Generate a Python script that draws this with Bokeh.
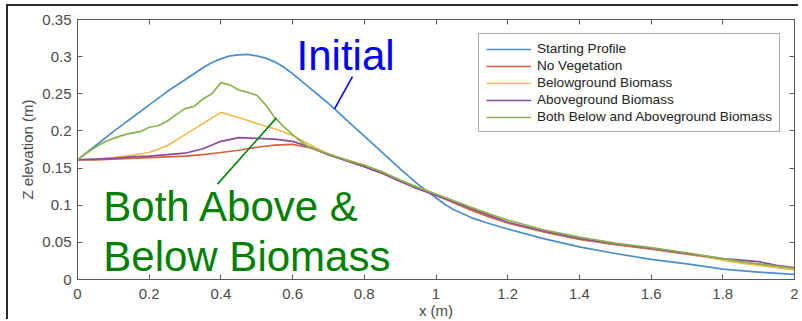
from bokeh.plotting import figure
from bokeh.models import Range1d, LinearAxis, FixedTicker, ColumnDataSource
from bokeh.core.properties import value
from bokeh.embed import file_html
from bokeh.resources import INLINE

# ---------------- data ----------------
x_ticks = [0, 0.2, 0.4, 0.6, 0.8, 1, 1.2, 1.4, 1.6, 1.8, 2]
x_tick_labels = ["0", "0.2", "0.4", "0.6", "0.8", "1", "1.2", "1.4", "1.6", "1.8", "2"]
y_ticks = [0, 0.05, 0.1, 0.15, 0.2, 0.25, 0.3, 0.35]
y_tick_labels = ["0", "0.05", "0.1", "0.15", "0.2", "0.25", "0.3", "0.35"]

series_names = ["Starting Profile", "No Vegetation", "Belowground Biomass",
                "Aboveground Biomass", "Both Below and Aboveground Biomass"]

x_start = [0, 0.05, 0.1, 0.15, 0.2, 0.25, 0.3, 0.325, 0.35, 0.375, 0.4, 0.425, 0.45,
           0.475, 0.5, 0.525, 0.55, 0.575, 0.6, 0.625, 0.65, 0.675,
           0.7, 0.75, 0.8, 0.85, 0.9, 0.95, 0.975, 1.0, 1.025, 1.05, 1.1, 1.15, 1.2,
           1.3, 1.4, 1.5, 1.6, 1.7, 1.8, 1.9, 2.0]
y_start = [0.161, 0.180, 0.199, 0.217, 0.235, 0.253, 0.269, 0.277, 0.285, 0.292, 0.297,
           0.301, 0.3025, 0.303, 0.301, 0.298, 0.293, 0.286, 0.277, 0.267, 0.257, 0.247,
           0.237, 0.215, 0.193, 0.171, 0.149, 0.128, 0.119, 0.110, 0.101, 0.094,
           0.083, 0.075, 0.068, 0.055, 0.044, 0.035, 0.027, 0.021, 0.014, 0.010, 0.007]

x_veg = [0, 0.05, 0.1, 0.15, 0.2, 0.25, 0.3, 0.35, 0.4, 0.45, 0.5, 0.55, 0.6, 0.65,
         0.7, 0.75, 0.8, 0.85, 0.9, 0.95, 1.0, 1.05, 1.1, 1.15, 1.2, 1.3, 1.4, 1.5,
         1.6, 1.7, 1.8, 1.85, 1.9, 1.95, 2.0]
y_novege = [0.161, 0.161, 0.162, 0.163, 0.164, 0.165, 0.166, 0.168, 0.171, 0.174, 0.178,
            0.181, 0.182, 0.177, 0.168, 0.160, 0.152, 0.143, 0.133, 0.123, 0.114, 0.103,
            0.093, 0.084, 0.076, 0.064, 0.054, 0.047, 0.041, 0.034, 0.027, 0.023, 0.020,
            0.017, 0.015]
y_below = [0.161, 0.162, 0.164, 0.167, 0.171, 0.180, 0.195, 0.210, 0.225, 0.218, 0.210,
           0.203, 0.194, 0.181, 0.169, 0.161, 0.153, 0.144, 0.133, 0.123, 0.114, 0.104,
           0.095, 0.086, 0.077, 0.065, 0.055, 0.048, 0.042, 0.035, 0.026, 0.022, 0.019,
           0.016, 0.013]
y_above = [0.161, 0.162, 0.163, 0.165, 0.166, 0.168, 0.170, 0.176, 0.186, 0.191, 0.190,
           0.189, 0.186, 0.178, 0.168, 0.160, 0.152, 0.143, 0.132, 0.122, 0.113, 0.104,
           0.095, 0.086, 0.077, 0.065, 0.055, 0.048, 0.042, 0.035, 0.028, 0.026, 0.024,
           0.019, 0.016]

x_both = [0, 0.025, 0.05, 0.075, 0.1, 0.125, 0.15, 0.175, 0.2, 0.225, 0.25, 0.275, 0.3,
          0.325, 0.35, 0.375, 0.4, 0.425, 0.45, 0.475, 0.5, 0.525, 0.55, 0.575, 0.6,
          0.625, 0.65, 0.7, 0.75, 0.8, 0.85, 0.9, 0.95, 1.0, 1.05, 1.1, 1.15, 1.2, 1.3,
          1.4, 1.5, 1.6, 1.7, 1.8, 1.85, 1.9, 1.95, 2.0]
y_both = [0.161, 0.170, 0.178, 0.185, 0.190, 0.194, 0.197, 0.199, 0.205, 0.207, 0.213,
          0.222, 0.230, 0.233, 0.243, 0.250, 0.265, 0.262, 0.255, 0.252, 0.248, 0.235,
          0.218, 0.206, 0.195, 0.185, 0.177, 0.169, 0.161, 0.154, 0.145, 0.134, 0.124,
          0.115, 0.106, 0.097, 0.088, 0.080, 0.067, 0.057, 0.049, 0.043, 0.036, 0.028,
          0.024, 0.021, 0.018, 0.015]

colors = ["#4a8fc9", "#d9623b", "#eebd4f", "#8d4c99", "#8ab34f"]

# annotation texts and pointers
note_text = ["Initial", "Both Above &", "Below Biomass"]
note_x = [0.611, 0.072, 0.072]
note_y = [0.301, 0.0985, 0.0311]
note_color = ["#0000ff", "#008000", "#008000"]
ptr_x0 = [0.767, 0.555]
ptr_y0 = [0.273, 0.2176]
ptr_x1 = [0.717, 0.3905]
ptr_y1 = [0.2297, 0.1284]
ptr_color = ["#0000ff", "#008000"]

# ---------------- figure ----------------
FONT = "Liberation Sans"
AX = "#5a5a5a"
TXT = "#4a4a4a"

p = figure(width=792, height=315, output_backend="svg", toolbar_location=None,
           x_range=Range1d(0, 2), y_range=Range1d(0, 0.35),
           min_border_left=69, min_border_right=6, min_border_top=13, min_border_bottom=0)
p.styles = {"border-left": "2px solid #2a2a2a", "border-top": "2px solid #2a2a2a",
            "margin-left": "6px", "margin-top": "4px"}
p.background_fill_color = "white"
p.border_fill_color = "white"
p.outline_line_color = AX
p.outline_line_width = 1
p.grid.visible = False

xs_all = [x_start, x_veg, x_veg, x_veg, x_both]
ys_all = [y_start, y_novege, y_below, y_above, y_both]
for xs, ys, c, name in zip(xs_all, ys_all, colors, series_names):
    p.line(xs, ys, line_color=c, line_width=1.7, legend_label=name, line_join="round")

# axes
def style_axis(ax, show_labels):
    ax.axis_line_color = AX
    ax.major_tick_line_color = AX
    ax.major_tick_in = 5
    ax.major_tick_out = 0
    ax.minor_tick_line_color = None
    if show_labels:
        ax.major_label_text_font = FONT
        ax.major_label_text_font_size = "15px"
        ax.major_label_text_color = TXT
        ax.axis_label_text_font = FONT
        ax.axis_label_text_font_size = "15px"
        ax.axis_label_text_color = TXT
        ax.axis_label_text_font_style = "normal"
    else:
        ax.major_label_text_font_size = "1px"
        ax.major_label_standoff = 0

xa = p.xaxis[0]
ya = p.yaxis[0]
xa.ticker = FixedTicker(ticks=x_ticks)
ya.ticker = FixedTicker(ticks=y_ticks)
xa.major_label_overrides = dict(zip(x_ticks, x_tick_labels))
ya.major_label_overrides = dict(zip(y_ticks, y_tick_labels))
xa.axis_label = "x (m)"
ya.axis_label = "Z elevation (m)"
style_axis(xa, True)
style_axis(ya, True)
xa.major_label_standoff = 9
xa.axis_label_standoff = 0
ya.major_label_standoff = 6
ya.axis_label_standoff = 3

top = LinearAxis(ticker=FixedTicker(ticks=x_ticks))
right = LinearAxis(ticker=FixedTicker(ticks=y_ticks))
style_axis(top, False)
style_axis(right, False)
top.major_label_overrides = {t: "" for t in x_ticks}
right.major_label_overrides = {t: "" for t in y_ticks}
p.add_layout(top, "above")
p.add_layout(right, "right")

# legend
lg = p.legend[0]
lg.location = "top_right"
lg.margin = 14
lg.padding = 7
lg.spacing = 2
lg.glyph_width = 45
lg.glyph_height = 14
lg.label_height = 14
lg.label_standoff = 6
lg.label_text_font = FONT
lg.label_text_font_size = "13.6px"
lg.label_text_color = "#222222"
lg.border_line_color = "#555555"
lg.border_line_width = 1
lg.background_fill_alpha = 1

# annotations
psrc = ColumnDataSource(dict(x0=ptr_x0, y0=ptr_y0, x1=ptr_x1, y1=ptr_y1, c=ptr_color))
p.segment("x0", "y0", "x1", "y1", source=psrc, line_color="c", line_width=1.6)
tsrc = ColumnDataSource(dict(x=note_x, y=note_y, t=note_text, c=note_color))
p.text("x", "y", text="t", source=tsrc, text_color="c", text_font=value(FONT),
       text_font_size="42px", text_align="left", text_baseline="alphabetic")

open("out.html", "w").write(file_html(p, INLINE))
